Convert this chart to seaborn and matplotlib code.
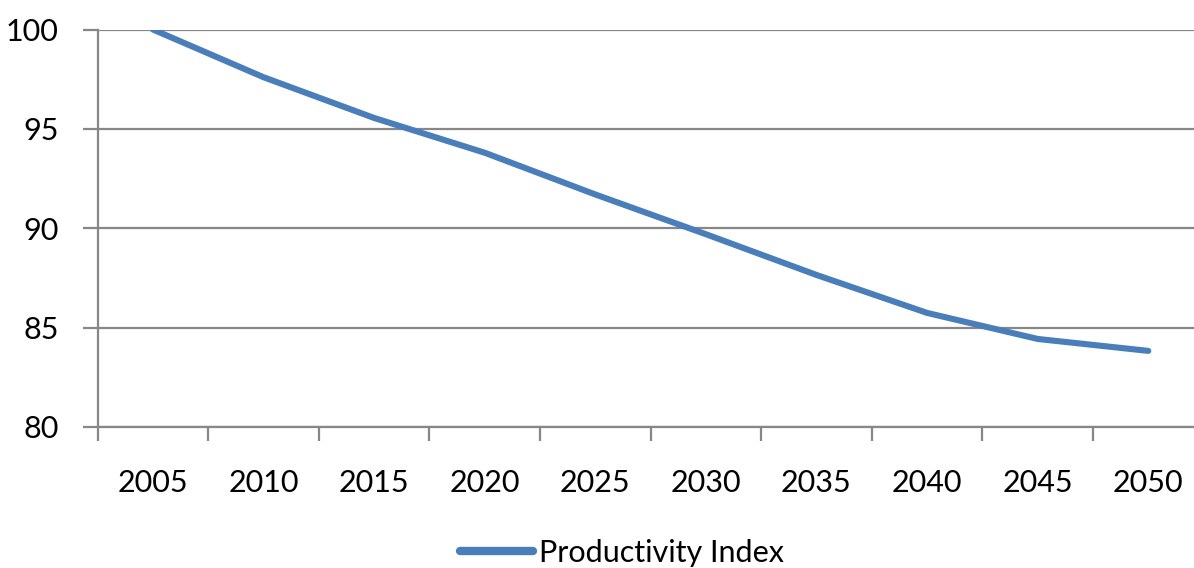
import matplotlib
matplotlib.use("Agg")
import matplotlib.pyplot as plt
import seaborn as sns
import pandas as pd

years = ["2005", "2010", "2015", "2020", "2025", "2030", "2035", "2040", "2045", "2050"]
productivity = [100.0, 97.6, 95.55, 93.8, 91.7, 89.7, 87.65, 85.74, 84.43, 83.83]
y_ticks = [80, 85, 90, 95, 100]

sns.set_theme(style="white")
plt.rcParams['font.family'] = ['Lato', 'DejaVu Sans']
plt.rcParams['text.color'] = 'black'
plt.rcParams['xtick.color'] = 'black'
plt.rcParams['ytick.color'] = 'black'

df = pd.DataFrame({"Year": years, "Productivity Index": productivity})

fig = plt.figure(figsize=(11.94, 5.68), dpi=100)
ax = fig.add_axes([97.6 / 1194, 141 / 568, 1106 / 1194, 397.5 / 568])

line_color = "#4A7EBB"
grid_color = "#878787"

sns.lineplot(data=df, x="Year", y="Productivity Index", ax=ax, color=line_color,
             linewidth=4.4, solid_capstyle="round", label="Productivity Index",
             legend=False)

ax.set_xlim(-0.5, len(years) - 0.5)
ax.set_ylim(80, 100)
ax.set_yticks(y_ticks)
ax.set_yticklabels([str(t) for t in y_ticks])
ax.yaxis.grid(True, color=grid_color, linewidth=1.6)
ax.set_axisbelow(True)

# category boundaries get the tick marks, labels sit at category centres
ax.set_xticks([i - 0.5 for i in range(len(years) + 1)])
ax.set_xticklabels([])
ax.set_xticks(range(len(years)), minor=True)
ax.set_xticklabels(years, minor=True)
ax.tick_params(axis="x", which="major", direction="out", length=10, width=1.6,
               color=grid_color, bottom=True)
ax.tick_params(axis="x", which="minor", length=0, pad=30, labelsize=22)
ax.tick_params(axis="y", direction="out", length=11, width=1.6, color=grid_color,
               left=True, pad=17, labelsize=22)

ax.set_xlabel("")
ax.set_ylabel("")
for side in ["top", "right"]:
    ax.spines[side].set_visible(False)
for side in ["left", "bottom"]:
    ax.spines[side].set_color(grid_color)
    ax.spines[side].set_linewidth(1.6)

handles, labels = ax.get_legend_handles_labels()
leg = fig.legend(handles, labels, loc="center", bbox_to_anchor=(622 / 1194, 1 - 553 / 568),
                 frameon=False, fontsize=22, handlelength=2.4, handletextpad=0.2)
for h in leg.get_lines():
    h.set_linewidth(6)
    h.set_solid_capstyle("round")

fig.savefig("out.png", dpi=100)
